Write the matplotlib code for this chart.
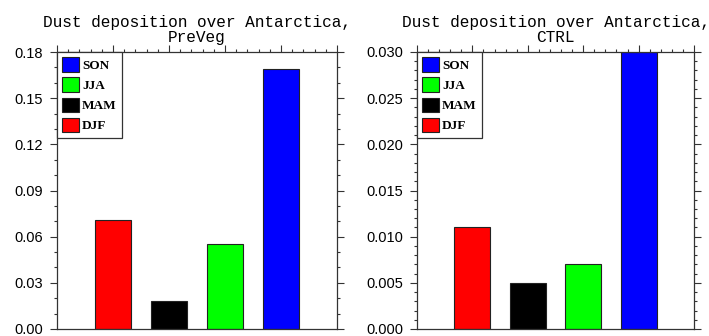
import matplotlib
matplotlib.use("Agg")
import matplotlib.pyplot as plt
from matplotlib.patches import Patch
from matplotlib.ticker import MultipleLocator, FormatStrFormatter

seasons = ["DJF", "MAM", "JJA", "SON"]
colors = ["#ff0000", "#000000", "#00ff00", "#0000ff"]
preveg = [0.071, 0.018, 0.055, 0.169]
ctrl = [0.011, 0.005, 0.007, 0.030]

panels = [
    ("Dust deposition over Antarctica,\nPreVeg", preveg, 0.18, 0.03, 0.01, "%.2f",
     [57 / 709, 7 / 336, 280 / 709, 277 / 336]),
    ("Dust deposition over Antarctica,\nCTRL", ctrl, 0.030, 0.005, 0.001, "%.3f",
     [417 / 709, 7 / 336, 277 / 709, 277 / 336]),
]

fig = plt.figure(figsize=(7.09, 3.36), dpi=100)

for title, vals, ymax, major, minor, fmt, rect in panels:
    ax = fig.add_axes(rect)
    x = range(1, len(seasons) + 1)
    ax.bar(x, vals, width=0.65, color=colors, edgecolor="#222222", linewidth=0.8)
    ax.set_xlim(0, 5)
    ax.set_ylim(0, ymax)

    ax.yaxis.set_major_locator(MultipleLocator(major))
    ax.yaxis.set_minor_locator(MultipleLocator(minor))
    ax.yaxis.set_major_formatter(FormatStrFormatter(fmt))
    ax.xaxis.set_major_locator(MultipleLocator(1))
    ax.xaxis.set_minor_locator(MultipleLocator(0.2))
    ax.tick_params(axis="both", which="both", direction="out", width=0.8, color="#333333")
    ax.tick_params(which="major", length=5)
    ax.tick_params(which="minor", length=2.5)
    ax.tick_params(axis="x", which="both", bottom=False, top=True, labelbottom=False, labeltop=False)
    ax.tick_params(axis="y", which="both", left=True, right=True, labelleft=True, labelright=False,
                   pad=5, labelsize=10.5)
    for lab in ax.get_yticklabels():
        lab.set_fontfamily("Liberation Sans")
    for sp in ax.spines.values():
        sp.set_linewidth(0.9)
        sp.set_color("#333333")

    ax.set_title(title, fontfamily="Liberation Mono", fontsize=11.6, linespacing=1.0, pad=7)

    handles = [Patch(facecolor=c, edgecolor="#222222", linewidth=0.8, label=s)
               for s, c in zip(seasons, colors)][::-1]
    leg = ax.legend(handles=handles, loc="upper left", bbox_to_anchor=(0, 1), borderaxespad=0,
                    fancybox=False, framealpha=1, edgecolor="#333333",
                    prop={"family": "Liberation Serif", "size": 9.5, "weight": "bold"},
                    handlelength=1.25, handleheight=1.3, labelspacing=0.42,
                    handletextpad=0.25, borderpad=0.4)
    leg.get_frame().set_linewidth(0.9)

fig.savefig("out.png", dpi=100)
